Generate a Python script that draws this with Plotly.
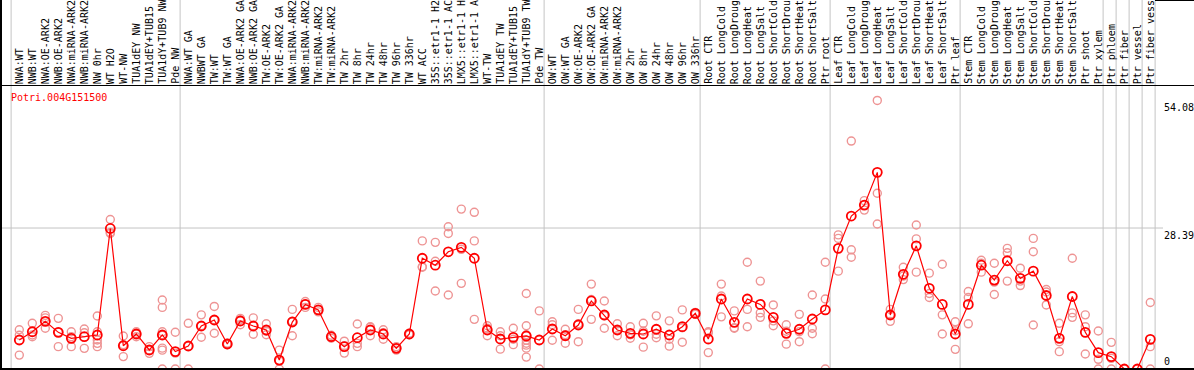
import plotly.graph_objects as go

gene_id = "Potri.004G151500"

labels = [
    "NWA:WT", "NWB:WT", "NWA:OE-ARK2", "NWB:OE-ARK2", "NWA:miRNA-ARK2", "NWB:miRNA-ARK2",
    "NW 0hr", "WT H2O", "WT-NW", "TUA1dEY NW", "TUA1dEY+TUB15", "TUA1dY+TUB9 NW", "Pde NW",
    "NWA:WT GA", "NWBWT GA", "TW:WT", "TW:WT GA", "NWA:OE-ARK2 GA", "NWB:OE-ARK2 GA",
    "TW:OE-ARK2", "TW:OE-ARK2 GA", "NWA:miRNA-ARK2", "NWB:miRNA-ARK2", "TW:miRNA-ARK2",
    "TW:miRNA-ARK2", "TW 2hr", "TW 8hr", "TW 24hr", "TW 48hr", "TW 96hr", "TW 336hr",
    "WT ACC", "35S::etr1-1 H2", "35S::etr1-1 AC", "LMX5::etr1-1 H", "LMX5::etr1-1 A",
    "WT-TW", "TUA1dEY TW", "TUA1dEY+TUB15", "TUA1dY+TUB9 TW", "Pde TW",
    "OW:WT", "OW:WT GA", "OW:OE-ARK2", "OW:OE-ARK2 GA", "OW:miRNA-ARK2", "OW:miRNA-ARK2",
    "OW 2hr", "OW 8hr", "OW 24hr", "OW 48hr", "OW 96hr", "OW 336hr",
    "Root CTR", "Root LongCold", "Root LongDroug", "Root LongHeat", "Root LongSalt",
    "Root ShortCold", "Root ShortDrou", "Root ShortHeat", "Root ShortSalt", "Ptr root",
    "Leaf CTR", "Leaf LongCold", "Leaf LongDroug", "Leaf LongHeat", "Leaf LongSalt",
    "Leaf ShortCold", "Leaf ShortDrou", "Leaf ShortHeat", "Leaf ShortSalt", "Ptr leaf",
    "Stem CTR", "Stem LongCold", "Stem LongDroug", "Stem LongHeat", "Stem LongSalt",
    "Stem ShortCold", "Stem ShortDrou", "Stem ShortHeat", "Stem ShortSalt", "Ptr shoot",
    "Ptr xylem", "Ptr phloem", "Ptr fiber", "Ptr vessel", "Ptr fiber vess",
]

means = [
    5.84, 7.5, 9.6, 7.38, 6.17, 6.5, 6.85, 28.3, 4.68, 7.05, 3.83, 6.85, 3.5,
    4.63, 8.66, 9.87, 5.03, 9.67, 8.66, 7.85, 1.8, 9.46, 13.0, 11.9, 6.5, 4.5, 6.3,
    7.85, 7.05, 4.16, 7.05, 22.3, 20.9, 23.6, 24.5, 22.3, 7.85, 6.04, 6.37, 6.65, 5.84,
    8.05, 6.7, 8.86, 13.7, 10.87, 7.85, 7.18, 7.05, 8.0, 6.85, 8.52, 11.2,
    6.04, 14.1, 9.4, 14.1, 13.0, 10.4, 7.18, 8.0, 10.07, 11.9,
    24.3, 30.8, 33.0, 39.6, 10.87, 19.07, 24.8, 16.25, 13.0, 7.05,
    13.0, 20.9, 17.9, 21.8, 18.25, 19.7, 14.8, 6.17, 14.6, 7.38,
    3.29, 2.48, 0.0, 0.0, 5.97,
]

replicates = [
    [7.9, 6.8, 2.8], [9.2, 6.85, 6.5], [10.8, 10.3, 8.2], [10.2, 7.4, 4.5],
    [7.5, 6.5, 4.5], [8.05, 7.3, 4.16], [10.67, 7.5, 5.84, 5.17, 4.5], [30.1, 27.5, 27.3],
    [6.65, 4.9, 2.5], [7.5, 7.1, 6.5], [4.5, 3.85, 3.15], [13.9, 12.4, 7.5, 6.8, 4.2, 3.8, 0.0],
    [7.4, 3.2, 0.0],
    [9.2, 4.6, 0.0], [10.9, 8.7, 6.4], [12.6, 9.9, 7.2], [5.2, 5.0, 4.9], [10.2, 9.9, 8.9],
    [10.3, 8.7, 7.0], [9.1, 7.6, 6.9], [3.8, 1.6, 0.0], [12.0, 9.6, 6.7], [13.6, 13.1, 12.4],
    [12.4, 11.9, 11.5], [6.8, 6.5, 6.2], [5.6, 4.7, 3.2], [9.06, 5.17, 4.5], [8.4, 8.5, 6.7],
    [7.9, 7.3, 6.0], [4.5, 4.2, 3.8], [7.2, 7.0, 6.9], [25.8, 20.6, 20.5], [25.5, 21.7, 15.7],
    [28.65, 27.3, 14.9], [32.2, 24.1, 17.25], [31.55, 25.8, 10.0], [8.7, 8.2, 6.7],
    [7.5, 6.7, 4.0], [8.2, 6.0, 4.9], [15.2, 8.7, 6.9, 5.8, 5.2, 4.8, 4.2, 2.4], [11.7, 0.0],
    [9.5, 8.9, 5.8], [8.0, 6.9, 5.2], [12.0, 9.1, 5.5], [17.1, 14.0, 10.0], [13.7, 10.7, 8.2],
    [9.1, 7.8, 6.7], [8.5, 6.9, 6.2], [9.2, 7.6, 4.4], [10.7, 7.0, 6.3], [9.7, 6.0, 4.6],
    [11.9, 8.3, 5.4], [11.4, 11.2, 11.0],
    [7.5, 7.3, 3.3], [17.1, 14.7, 10.5], [11.7, 8.3, 8.2], [21.5, 12.0, 8.5], [17.7, 11.3, 10.4],
    [12.9, 9.7, 8.7], [8.9, 7.6, 5.0], [11.0, 7.5, 5.5], [14.9, 8.2, 7.1], [21.5, 14.1, 0.0],
    [27.0, 26.3, 19.7], [45.9, 24.0, 22.5], [33.9, 33.0, 32.0], [54.08, 35.4, 29.2],
    [12.0, 11.0, 9.6], [20.5, 18.7, 18.0], [29.0, 26.2, 19.5], [19.3, 15.2, 14.4],
    [21.1, 10.9, 7.05], [9.5, 7.7, 3.96],
    [15.6, 14.4, 9.1], [21.9, 21.3, 19.5], [21.3, 17.5, 15.0], [24.3, 23.4, 17.7],
    [20.3, 17.7, 16.8], [26.3, 23.6, 8.86], [16.0, 15.5, 12.9], [9.2, 5.5, 3.49],
    [22.3, 11.3, 10.4], [10.9, 8.52, 3.02],
    [7.65, 1.95, 0.0], [5.37, 2.15, 0.0], [0.0], [0.0], [13.4, 4.5, 0.0],
]

# group separators: after these category counts
group_breaks = [0, 13, 41, 53, 63, 73, 84, 85, 86, 87, 88]
y_ticks = [0, 28.39, 54.08]
y_grid = [28.39]

W, H = 1194, 370
STEP = 13.0          # pixels per category
X0 = 1 - 19.3 / STEP  # so category 1 sits at x=19.3 px
PXU = 4.966          # pixels per expression unit
ZERO_PX = 369.0
Y0 = -(H - ZERO_PX) / PXU
Y1 = ZERO_PX / PXU

xs = list(range(1, len(labels) + 1))

MONO = "DejaVu Sans Mono"

fig = go.Figure()

rx, ry = [], []
for i, reps in zip(xs, replicates):
    for v in reps:
        rx.append(i)
        ry.append(v)

fig.add_trace(go.Scatter(
    x=rx, y=ry, mode="markers",
    marker=dict(symbol="circle-open", size=8, color="#EE9494", line=dict(width=1.4, color="#EE9494")),
    hoverinfo="skip",
))
fig.add_trace(go.Scatter(
    x=xs, y=means, mode="lines+markers",
    line=dict(color="#FF0000", width=1.2),
    marker=dict(symbol="circle-open", size=9, color="#FF0000", line=dict(width=1.8, color="#FF0000")),
    hoverinfo="skip",
))

shapes = []
# vertical gray separators
for b in group_breaks:
    shapes.append(dict(type="line", xref="x", yref="paper", x0=b + 0.37, x1=b + 0.37,
                       y0=0, y1=1, line=dict(color="#C4C4C4", width=1), layer="below"))
# horizontal gridline
for g in y_grid:
    shapes.append(dict(type="line", xref="paper", yref="y", x0=0, x1=1163 / W, y0=g, y1=g,
                       line=dict(color="#C4C4C4", width=1), layer="below"))
# header line
shapes.append(dict(type="line", xref="paper", yref="paper", x0=0, x1=1, y0=1 - 85.5 / H, y1=1 - 85.5 / H,
                   line=dict(color="black", width=1)))
# bottom line
shapes.append(dict(type="line", xref="paper", yref="paper", x0=0, x1=1, y0=1 / H, y1=1 / H,
                   line=dict(color="black", width=2)))
# left border
shapes.append(dict(type="line", xref="paper", yref="paper", x0=1 / W, x1=1 / W, y0=0, y1=1,
                   line=dict(color="black", width=2)))
# top of right header box
shapes.append(dict(type="line", xref="paper", yref="paper", x0=1155 / W, x1=1, y0=1 - 0.5 / H, y1=1 - 0.5 / H,
                   line=dict(color="black", width=1)))

annotations = []
for i, lab in zip(xs, labels):
    annotations.append(dict(
        x=i, xref="x", y=1 - 85 / H, yref="paper", text=lab, showarrow=False,
        textangle=-90, xanchor="center", yanchor="bottom",
        font=dict(family=MONO, size=10, color="black"), borderpad=0,
    ))

annotations.append(dict(
    x=9 / W, xref="paper", y=1 - 97 / H, yref="paper", text=gene_id, showarrow=False,
    xanchor="left", yanchor="middle", font=dict(family=MONO, size=10, color="#FF0000"),
))

for t in y_ticks:
    annotations.append(dict(
        x=1162 / W, xref="paper", y=t, yref="y", text=("%g" % t) if t == 0 else ("%.2f" % t),
        showarrow=False, xanchor="left", yanchor="bottom" if t == 0 else "top",
        font=dict(family=MONO, size=10, color="black"),
    ))

fig.update_layout(
    width=W, height=H,
    margin=dict(l=0, r=0, t=0, b=0, pad=0),
    paper_bgcolor="white", plot_bgcolor="white",
    showlegend=False,
    xaxis=dict(range=[X0, X0 + W / STEP], visible=False, fixedrange=True),
    yaxis=dict(range=[Y0, Y1], visible=False, fixedrange=True),
    shapes=shapes, annotations=annotations,
)

fig.write_html("out.html", config={"displayModeBar": False},
               post_script="document.body.style.margin='0';document.body.style.overflow='hidden';")
